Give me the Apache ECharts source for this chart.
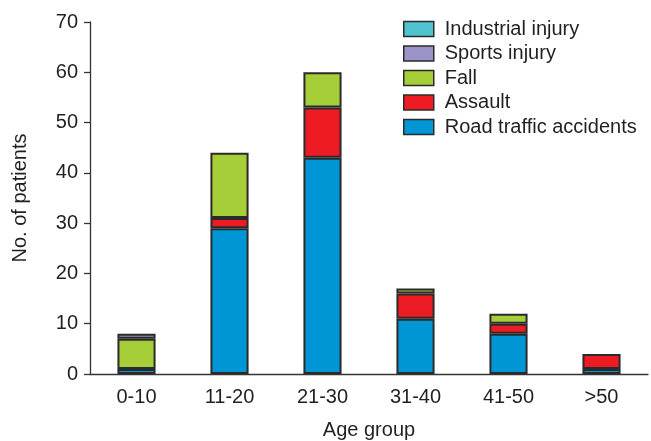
<!DOCTYPE html>
<html><head><meta charset="utf-8">
<script src="https://cdn.jsdelivr.net/npm/echarts@6/dist/echarts.min.js"></script>
<style>html,body{margin:0;padding:0;background:#fff}#c{width:651px;height:441px}</style>
</head><body><div id="c"></div>
<script>
const categories = ['0-10','11-20','21-30','31-40','41-50','>50'];
const roadTraffic = [1, 29, 43, 11, 8, 1];
const assault = [0, 2, 10, 5, 2, 3];
const fall = [6, 13, 7, 1, 2, 0];
const sports = [1, 0, 0, 0, 0, 0];
const industrial = [0, 0, 0, 0, 0, 0];
const yTicks = [0, 10, 20, 30, 40, 50, 60, 70];

const font = 'Liberation Sans, Arial, sans-serif';
const txt = '#231f20';
const chart = echarts.init(document.getElementById('c'));
function s(name, data, color) {
  return { name, type: 'bar', stack: 'a', data: data.map(v => v === 0 ? '-' : v), barWidth: '41%',
    itemStyle: { color, borderColor: '#2b2b2b', borderWidth: 2 } };
}
chart.setOption({
  animation: false,
  textStyle: { fontFamily: font },
  grid: { left: 90, right: 3, top: 22, bottom: 67, containLabel: false, outerBoundsMode: 'none' },
  legend: {
    orient: 'vertical', left: 403, top: 19, padding: 0,
    icon: 'rect',
    itemWidth: 30, itemHeight: 15, itemGap: 4.5,
    data: ['Industrial injury','Sports injury','Fall','Assault','Road traffic accidents'],
    textStyle: { fontSize: 20, color: txt, fontFamily: font, padding: [0,0,0,6] },
    itemStyle: { borderColor: '#2b2b2b', borderWidth: 1.5 }
  },
  xAxis: {
    type: 'category', data: categories,
    name: 'Age group', nameLocation: 'middle', nameGap: 46,
    nameTextStyle: { fontSize: 20, color: txt },
    axisLine: { lineStyle: { color: '#333', width: 1.3 } },
    axisTick: { length: 7, lineStyle: { color: '#333', width: 1.3 } },
    axisLabel: { fontSize: 20, color: txt, margin: 13 }
  },
  yAxis: {
    type: 'value', min: yTicks[0], max: yTicks[yTicks.length-1], interval: 10,
    name: 'No. of patients', nameLocation: 'middle', nameGap: 60,
    nameTextStyle: { fontSize: 20, color: txt },
    splitLine: { show: false },
    axisLine: { show: true, lineStyle: { color: '#333', width: 1.3 } },
    axisTick: { show: true, length: 6, lineStyle: { color: '#333', width: 1.3 } },
    axisLabel: { fontSize: 20, color: txt, margin: 12 }
  },
  series: [
    s('Road traffic accidents', roadTraffic, '#0096d6'),
    s('Assault', assault, '#ed1c24'),
    s('Fall', fall, '#a6ce39'),
    s('Sports injury', sports, '#9b94c8'),
    s('Industrial injury', industrial, '#4fc3cf')
  ]
});
</script></body></html>
